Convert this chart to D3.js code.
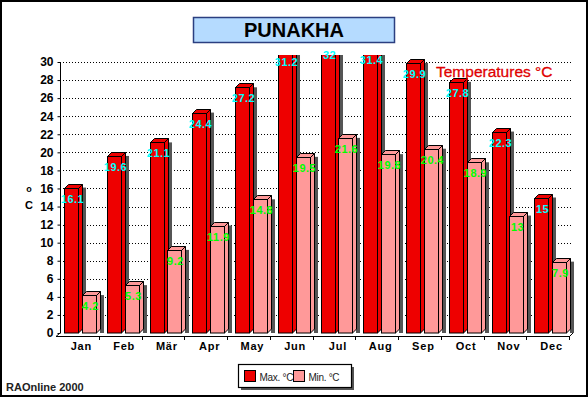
<!DOCTYPE html>
<html>
<head>
<meta charset="utf-8">
<script src="https://cdn.jsdelivr.net/npm/d3@7"></script>
<style>
body { margin: 0; background: #fff; }
text { font-family: "Liberation Sans", Arial, sans-serif; }
</style>
</head>
<body>
<div id="chart"></div>
<script>
var width = 588
var height = 397

var months = ["Jan", "Feb", "Mär", "Apr", "May", "Jun", "Jul", "Aug", "Sep", "Oct", "Nov", "Dec"]
var maxTemp = [16.1, 19.6, 21.1, 24.4, 27.2, 31.2, 32, 31.4, 29.9, 27.8, 22.3, 15]
var minTemp = [4.2, 5.3, 9.2, 11.9, 14.8, 19.5, 21.6, 19.8, 20.4, 18.9, 13, 7.9]
var yTicks = [0, 2, 4, 6, 8, 10, 12, 14, 16, 18, 20, 22, 24, 26, 28, 30]
var seriesNames = ["Max. °C", "Min. °C"]

var colors = { max: "#ee0000", min: "#ff9999" }
var depth = 4

var svg = d3.select("#chart")
    .append("svg")
    .attr("width", width)
    .attr("height", height)

// outer frame
svg.append("rect")
    .attr("x", 1).attr("y", 1)
    .attr("width", width - 2).attr("height", height - 2)
    .attr("fill", "#fff")
    .attr("stroke", "#000")
    .attr("stroke-width", 2)

// title box
svg.append("rect")
    .attr("x", 193.5).attr("y", 17.5)
    .attr("width", 201).attr("height", 25)
    .attr("fill", "#b5dbff")
    .attr("stroke", "#2b3f80")
    .attr("stroke-width", 1.5)
svg.append("text")
    .attr("x", 294).attr("y", 37)
    .attr("text-anchor", "middle")
    .attr("font-size", 20)
    .attr("font-weight", "bold")
    .text("PUNAKHA")

var x0 = d3.scaleBand().domain(months).range([60, 573])
var x1 = d3.scaleBand().domain(["max", "min"]).range([4, 36]).paddingInner(0.222)
var y = d3.scaleLinear().domain([0, 30]).range([333, 62])

// gridlines
svg.append("g")
    .selectAll("line")
    .data(yTicks.filter(function (d) { return d > 0 }))
    .enter()
    .append("line")
    .attr("x1", 60).attr("x2", 573)
    .attr("y1", function (d) { return Math.round(y(d)) + 0.5 })
    .attr("y2", function (d) { return Math.round(y(d)) + 0.5 })
    .attr("stroke", "#000")
    .attr("stroke-dasharray", "1,2")

// y axis
var yAxis = d3.axisLeft(y).tickValues(yTicks).tickSize(3).tickPadding(4)
var gy = svg.append("g")
    .attr("transform", "translate(60.5,0)")
    .call(yAxis)
gy.select(".domain").attr("d", "M0," + y(30) + "V" + y(0))
gy.selectAll("text")
    .attr("font-family", "'Liberation Sans', Arial, sans-serif")
    .attr("font-size", 12)
    .attr("font-weight", "bold")
    .attr("fill", "#000")

// y axis title
svg.append("text").attr("x", 29).attr("y", 192)
    .attr("text-anchor", "middle").attr("font-size", 9).attr("font-weight", "bold").text("o")
svg.append("text").attr("x", 29).attr("y", 209)
    .attr("text-anchor", "middle").attr("font-size", 11).attr("font-weight", "bold").text("C")

// floor
svg.append("path")
    .attr("d", "M56,336.5H569.5L573,333")
    .attr("fill", "none").attr("stroke", "#000")
svg.append("line")
    .attr("x1", 56).attr("y1", 336.5).attr("x2", 60).attr("y2", 333)
    .attr("stroke", "#000")
svg.append("g")
    .selectAll("line")
    .data(months.slice(1).concat(["end"]))
    .enter()
    .append("line")
    .attr("x1", function (d, i) { return Math.round(60 + (i + 1) * x0.step()) - 3.5 })
    .attr("x2", function (d, i) { return Math.round(60 + (i + 1) * x0.step()) - 3.5 })
    .attr("y1", 336).attr("y2", 340)
    .attr("stroke", "#000")

// bars
svg.append("defs").append("clipPath").attr("id", "plotclip")
    .append("rect").attr("x", 0).attr("y", 55).attr("width", width).attr("height", 300)

var barData = []
months.forEach(function (m, i) {
    barData.push({ month: m, key: "max", value: maxTemp[i] })
    barData.push({ month: m, key: "min", value: minTemp[i] })
})

var bars = svg.append("g").attr("clip-path", "url(#plotclip)")
    .selectAll("g")
    .data(barData)
    .enter()
    .append("g")

function bx(d) { return Math.round(x0(d.month) + x1(d.key)) + 0.5 }
var bw = x1.bandwidth()
var base = y(0)

bars.append("rect")
    .attr("x", function (d) { return bx(d) + bw + depth - 0.5 })
    .attr("y", function (d) { return y(d.value) - depth + 4 })
    .attr("width", 4)
    .attr("height", function (d) { return base - y(d.value) })
    .attr("fill", "#555")

bars.append("path")
    .attr("d", function (d) {
        var x = bx(d), t = Math.round(y(d.value)) + 0.5
        return "M" + (x + bw) + "," + t + "L" + (x + bw + depth) + "," + (t - depth) +
            "V" + (base - depth) + "L" + (x + bw) + "," + base + "Z"
    })
    .attr("fill", function (d) { return colors[d.key] })
    .attr("stroke", "#000")

bars.append("path")
    .attr("d", function (d) {
        var x = bx(d), t = Math.round(y(d.value)) + 0.5
        return "M" + x + "," + t + "L" + (x + depth) + "," + (t - depth) +
            "H" + (x + bw + depth) + "L" + (x + bw) + "," + t + "Z"
    })
    .attr("fill", function (d) { return colors[d.key] })
    .attr("stroke", "#000")

bars.append("rect")
    .attr("x", bx)
    .attr("y", function (d) { return Math.round(y(d.value)) + 0.5 })
    .attr("width", bw)
    .attr("height", function (d) { return base - Math.round(y(d.value)) - 0.5 })
    .attr("fill", function (d) { return colors[d.key] })
    .attr("stroke", "#000")

// value labels
svg.append("g")
    .selectAll("text")
    .data(barData)
    .enter()
    .append("text")
    .attr("x", function (d) { return bx(d) + bw / 2 + 1 })
    .attr("y", function (d) { return y(d.value) + 15 })
    .attr("text-anchor", "middle")
    .attr("font-size", 11)
    .attr("font-weight", "bold")
    .attr("letter-spacing", 0.5)
    .attr("fill", function (d) { return d.key === "max" ? "#00ffff" : "#00ff00" })
    .text(function (d) { return d.value })

// month labels
svg.append("g")
    .selectAll("text")
    .data(months)
    .enter()
    .append("text")
    .attr("x", function (d) { return x0(d) + x0.bandwidth() / 2 })
    .attr("y", 350)
    .attr("text-anchor", "middle")
    .attr("font-size", 11)
    .attr("font-weight", "bold")
    .attr("letter-spacing", 0.8)
    .text(function (d) { return d })

// in-plot caption
svg.append("text")
    .attr("x", 436).attr("y", 77)
    .attr("font-size", 15.5)
    .attr("fill", "#e00000")
    .attr("stroke", "#e00000")
    .attr("stroke-width", 0.3)
    .text("Temperatures °C")

// legend
svg.append("rect")
    .attr("x", 241).attr("y", 367).attr("width", 113).attr("height", 23)
    .attr("fill", "#555")
svg.append("rect")
    .attr("x", 238.5).attr("y", 364.5).attr("width", 113).attr("height", 23)
    .attr("fill", "#fff").attr("stroke", "#000").attr("stroke-width", 1.2)

var legend = svg.append("g")
    .selectAll("g")
    .data(seriesNames)
    .enter()
    .append("g")
    .attr("transform", function (d, i) { return "translate(" + (244.5 + i * 49) + ",370.5)" })
legend.append("rect")
    .attr("width", 11).attr("height", 11)
    .attr("fill", function (d, i) { return i === 0 ? colors.max : colors.min })
    .attr("stroke", "#000")
legend.append("text")
    .attr("x", 15).attr("y", 10)
    .attr("font-size", 10)
    .attr("letter-spacing", -0.3)
    .attr("fill", "#222")
    .text(function (d) { return d })

// footer
svg.append("text")
    .attr("x", 6).attr("y", 391)
    .attr("font-size", 11)
    .attr("font-weight", "bold")
    .attr("fill", "#222")
    .text("RAOnline 2000")
</script>
</body>
</html>
